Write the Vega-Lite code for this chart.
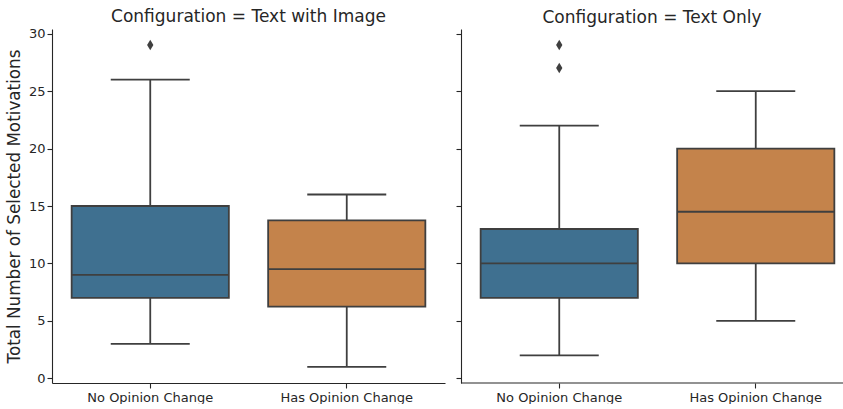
{
  "$schema": "https://vega.github.io/schema/vega-lite/v6.json",
  "padding": {"left": 6, "top": 7, "right": 0, "bottom": 0},
  "spacing": 10,
  "config": {
    "font": "DejaVu Sans",
    "view": {"stroke": null},
    "axis": {"domainColor": "#262626", "tickColor": "#262626", "labelColor": "#262626", "titleColor": "#262626", "labelFontSize": 13, "titleFontSize": 16.8, "titleFontWeight": "normal", "grid": false, "tickSize": 5, "domainWidth": 1.1, "tickWidth": 1.1},
    "title": {"fontSize": 17, "fontWeight": "normal", "color": "#262626", "anchor": "middle", "offset": 2}
  },
  "datasets": {
    "boxes": [
      {"config": "Text with Image", "group": "No Opinion Change", "lower": 3, "q1": 7, "median": 9, "q3": 15, "upper": 26},
      {"config": "Text with Image", "group": "Has Opinion Change", "lower": 1, "q1": 6.25, "median": 9.5, "q3": 13.75, "upper": 16},
      {"config": "Text Only", "group": "No Opinion Change", "lower": 2, "q1": 7, "median": 10, "q3": 13, "upper": 22},
      {"config": "Text Only", "group": "Has Opinion Change", "lower": 5, "q1": 10, "median": 14.5, "q3": 20, "upper": 25}
    ],
    "outliers": [
      {"config": "Text with Image", "group": "No Opinion Change", "value": 29},
      {"config": "Text Only", "group": "No Opinion Change", "value": 27},
      {"config": "Text Only", "group": "No Opinion Change", "value": 29}
    ]
  },
  "hconcat": [
    {
      "title": "Configuration = Text with Image",
      "width": 393,
      "height": 354,
      "layer": [
        {
          "data": {"name": "boxes"},
          "transform": [{"filter": "datum.config === 'Text with Image'"}],
          "layer": [
            {"mark": {"type": "rule", "color": "#3f3f3f", "strokeWidth": 1.8},
             "encoding": {"y": {"field": "lower", "type": "quantitative"}, "y2": {"field": "upper"}}},
            {"mark": {"type": "bar", "width": {"band": 0.8}, "stroke": "#3f3f3f", "strokeWidth": 1.8},
             "encoding": {"y": {"field": "q1", "type": "quantitative"}, "y2": {"field": "q3"},
               "color": {"field": "group", "type": "nominal", "scale": {"domain": ["No Opinion Change", "Has Opinion Change"], "range": ["#3f7090", "#c4834b"]}, "legend": null}}},
            {"mark": {"type": "tick", "size": 157, "thickness": 1.8, "color": "#3f3f3f", "opacity": 1},
             "encoding": {"y": {"field": "median", "type": "quantitative"}}},
            {"mark": {"type": "tick", "size": 79, "thickness": 1.8, "color": "#3f3f3f", "opacity": 1},
             "encoding": {"y": {"field": "lower", "type": "quantitative"}}},
            {"mark": {"type": "tick", "size": 79, "thickness": 1.8, "color": "#3f3f3f", "opacity": 1},
             "encoding": {"y": {"field": "upper", "type": "quantitative"}}}
          ],
          "encoding": {
            "x": {"field": "group", "type": "nominal", "scale": {"type": "band", "domain": ["No Opinion Change", "Has Opinion Change"], "paddingInner": 0, "paddingOuter": 0}, "axis": {"title": null, "labelAngle": 0, "bandPosition": 0.5, "labelPadding": 3}}
          }
        },
        {
          "data": {"name": "outliers"},
          "transform": [{"filter": "datum.config === 'Text with Image'"}],
          "mark": {"type": "point", "shape": "M0,-1L0.6,0L0,1L-0.6,0Z", "size": 110, "filled": true, "color": "#3f3f3f", "opacity": 1},
          "encoding": {"x": {"field": "group", "type": "nominal"}, "y": {"field": "value", "type": "quantitative"}}
        }
      ],
      "encoding": {
        "y": {"type": "quantitative", "scale": {"domain": [-0.4, 30.4], "nice": false, "zero": false}, "axis": {"title": "Total Number of Selected Motivations", "values": [0, 5, 10, 15, 20, 25, 30], "labelPadding": 2, "titlePadding": 5}}
      }
    },
    {
      "title": "Configuration = Text Only",
      "width": 382,
      "height": 354,
      "layer": [
        {
          "data": {"name": "boxes"},
          "transform": [{"filter": "datum.config === 'Text Only'"}],
          "layer": [
            {"mark": {"type": "rule", "color": "#3f3f3f", "strokeWidth": 1.8},
             "encoding": {"y": {"field": "lower", "type": "quantitative"}, "y2": {"field": "upper"}}},
            {"mark": {"type": "bar", "width": {"band": 0.8}, "stroke": "#3f3f3f", "strokeWidth": 1.8},
             "encoding": {"y": {"field": "q1", "type": "quantitative"}, "y2": {"field": "q3"},
               "color": {"field": "group", "type": "nominal", "scale": {"domain": ["No Opinion Change", "Has Opinion Change"], "range": ["#3f7090", "#c4834b"]}, "legend": null}}},
            {"mark": {"type": "tick", "size": 157, "thickness": 1.8, "color": "#3f3f3f", "opacity": 1},
             "encoding": {"y": {"field": "median", "type": "quantitative"}}},
            {"mark": {"type": "tick", "size": 79, "thickness": 1.8, "color": "#3f3f3f", "opacity": 1},
             "encoding": {"y": {"field": "lower", "type": "quantitative"}}},
            {"mark": {"type": "tick", "size": 79, "thickness": 1.8, "color": "#3f3f3f", "opacity": 1},
             "encoding": {"y": {"field": "upper", "type": "quantitative"}}}
          ],
          "encoding": {
            "x": {"field": "group", "type": "nominal", "scale": {"type": "band", "domain": ["No Opinion Change", "Has Opinion Change"], "paddingInner": 0, "paddingOuter": 0, "range": [0, 393]}, "axis": {"title": null, "labelAngle": 0, "bandPosition": 0.5, "labelPadding": 3, "domain": false}}
          }
        },
        {
          "data": {"name": "outliers"},
          "transform": [{"filter": "datum.config === 'Text Only'"}],
          "mark": {"type": "point", "shape": "M0,-1L0.6,0L0,1L-0.6,0Z", "size": 110, "filled": true, "color": "#3f3f3f", "opacity": 1},
          "encoding": {"x": {"field": "group", "type": "nominal"}, "y": {"field": "value", "type": "quantitative"}}
        },
        {
          "data": {"values": [{}]},
          "mark": {"type": "rule", "color": "#262626", "strokeWidth": 1.1},
          "encoding": {"y": {"datum": -0.4}}
        }
      ],
      "encoding": {
        "y": {"type": "quantitative", "scale": {"domain": [-0.4, 30.4], "nice": false, "zero": false}, "axis": {"title": null, "labels": false, "values": [0, 5, 10, 15, 20, 25, 30]}}
      }
    }
  ]
}
